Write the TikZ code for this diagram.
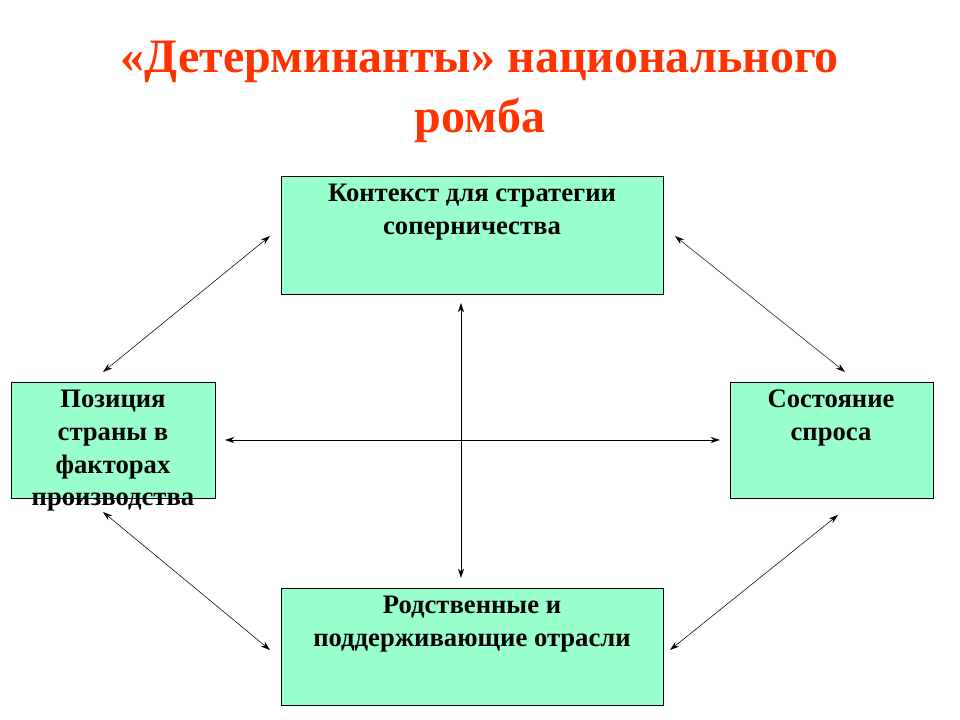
\documentclass[tikz,border=0pt]{standalone}
\usepackage{fontspec}
\setmainfont{Liberation Serif}
\usetikzlibrary{positioning, calc}
\usetikzlibrary{arrows.meta}
\definecolor{boxgreen}{HTML}{99FFCC}
\definecolor{titlered}{HTML}{FF3300}

\begin{document}
\begin{tikzpicture}[x=0.75pt,y=-0.75pt,draw=black!100]
	\tikzstyle{d-box}=[draw,fill=boxgreen,anchor=north west,inner sep=0pt]
	\tikzstyle{d-text}=[anchor=north,align=center,font=\bfseries\fontsize{20}{24.5}\selectfont,inner sep=0pt]
	\tikzstyle{link}=[{Stealth[length=7pt,width=4.5pt]}-{Stealth[length=7pt,width=4.5pt]},thin]
	\useasboundingbox (0,0) rectangle (960,720);
	% title
	\node[font=\bfseries\fontsize{36}{45}\selectfont,text=titlered,align=center] (title) at (480,92) {«Детерминанты» национального\\ромба};
	
	% boxes
	\node[d-box,minimum width=382*0.75pt,minimum height=118*0.75pt] (ctx) at (281,176) {};
	\node[d-box,minimum width=204*0.75pt,minimum height=116*0.75pt] (fac) at (11,382) {};
	\node[d-box,minimum width=203*0.75pt,minimum height=116*0.75pt] (dem) at (730,382) {};
	\node[d-box,minimum width=382*0.75pt,minimum height=117*0.75pt] (rel) at (281,588) {};
	
	% labels
	\node[d-text] (ctxtext) at (472,184) {Контекст для стратегии\\соперничества};
	\node[d-text] (factext) at (113,390) {Позиция\\страны в\\факторах\\производства};
	\node[d-text] (demtext) at (831,390) {Состояние\\спроса};
	\node[d-text] (reltext) at (472,596) {Родственные и\\поддерживающие отрасли};
	
	% arrow ends
	\coordinate (tl1) at (103,372); \coordinate (tl2) at (270,236);
	\coordinate (tr1) at (675,236); \coordinate (tr2) at (845,372);
	\coordinate (bl1) at (103,512); \coordinate (bl2) at (270,650);
	\coordinate (br1) at (670,650); \coordinate (br2) at (838,515);
	\coordinate (vt) at (461,303); \coordinate (vb) at (461,578);
	\coordinate (hl) at (225,440); \coordinate (hr) at (720,440);
	
	\path[link]
		(tl1) edge (tl2)
		(tr1) edge (tr2)
		(bl1) edge (bl2)
		(br1) edge (br2)
		(vt) edge (vb)
		(hl) edge (hr);
\end{tikzpicture}
\end{document}
